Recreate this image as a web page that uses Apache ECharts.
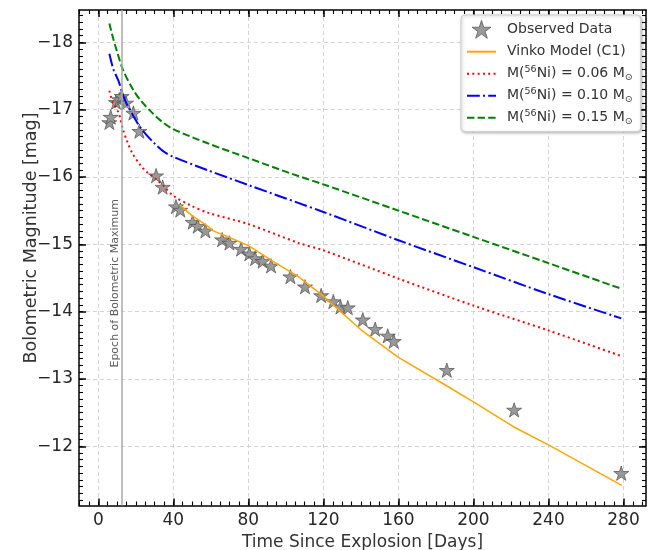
<!DOCTYPE html>
<html>
<head>
<meta charset="utf-8">
<script src="https://cdn.jsdelivr.net/npm/echarts@6/dist/echarts.min.js"></script>
<style>
  html, body { margin: 0; padding: 0; background: #fff; }
  #chart { width: 655px; height: 550px; }
</style>
</head>
<body>
<div id="chart"></div>
<script>
// observed bolometric light curve
var obsDays = [5.9, 6.6, 9.4, 11.2, 12.5, 14.8, 18.7, 21.9, 30.8, 34.3, 41.4, 43.7, 50.3, 53.0, 57.1,
               66.0, 69.9, 76.1, 80.5, 83.6, 87.6, 92.1, 102.4, 110.2, 118.8, 125.3, 129.1, 133.0,
               141.0, 147.6, 154.3, 157.5, 185.8, 221.7, 278.8];
var obsMag = [-16.81, -16.89, -17.11, -17.15, -17.20, -17.10, -16.95, -16.68, -16.02, -15.85, -15.56, -15.51, -15.33, -15.27, -15.20,
              -15.07, -15.02, -14.93, -14.86, -14.79, -14.75, -14.68, -14.52, -14.37, -14.24, -14.15, -14.07, -14.06,
              -13.88, -13.74, -13.64, -13.56, -13.13, -12.54, -11.60];

// Vinko model (C1)
var vinkoDays = [43.2, 49.8, 58.3, 61.3, 70, 80, 94, 106.7, 120, 140, 160, 185, 200, 221.3, 240, 279.1];
var vinkoMag = [-15.59, -15.43, -15.27, -15.20, -15.10, -14.98, -14.73, -14.52, -14.23, -13.73, -13.32, -12.91, -12.66, -12.29, -12.02, -11.42];

// Ni-56 models
var ni06Days = [5.9, 7.7, 10.7, 11.6, 12.5, 13.3, 15.1, 18, 22.5, 26, 31.6, 35, 40, 49, 58.3, 80, 106.7, 120, 160, 200, 240, 278.8];
var ni06Mag = [-17.28, -17.11, -16.96, -16.88, -16.77, -16.69, -16.55, -16.36, -16.17, -16.07, -15.95, -15.86, -15.72, -15.58, -15.47, -15.30, -15.02, -14.91, -14.49, -14.09, -13.72, -13.34];

var ni10Days = [5.9, 8, 10.7, 14.2, 17.8, 22.8, 29.9, 34.7, 40, 58.3, 80, 120, 160, 200, 240, 278.8];
var ni10Mag = [-17.83, -17.60, -17.43, -17.14, -16.95, -16.72, -16.50, -16.38, -16.30, -16.10, -15.88, -15.48, -15.06, -14.66, -14.26, -13.90];

var ni15Days = [5.9, 8, 9.8, 13.3, 18.7, 22.8, 28.1, 34, 40, 58.3, 80, 102.8, 120, 160, 200, 240, 278.8];
var ni15Mag = [-18.28, -18.05, -17.88, -17.58, -17.29, -17.13, -16.97, -16.82, -16.71, -16.50, -16.28, -16.05, -15.89, -15.50, -15.11, -14.72, -14.34];

var peakDay = 12.7;
var epochLabelAt = [8.9, -14.42];

var xTicks = [0, 40, 80, 120, 160, 200, 240, 280];
var yTicks = [-18, -17, -16, -15, -14, -13, -12];
var xRange = [-10.3, 292];
var yRange = [-18.48, -11.12];

var names = ['Observed Data', 'Vinko Model (C1)', 'M(56Ni) = 0.06', 'M(56Ni) = 0.10', 'M(56Ni) = 0.15'];

function pairs(xs, ys) {
  return xs.map(function (x, i) { return [x, ys[i]]; });
}

var xMinor = [];
for (var v = -10; v <= xRange[1]; v += 5) xMinor.push(v);
var yMinor = [];
for (var k = Math.ceil(yRange[0] * 10); k <= Math.floor(yRange[1] * 10); k++) yMinor.push(k / 10);

var FONT = 'DejaVu Sans';
var star = 'path://M0,-10L2.245,-3.09L9.511,-3.09L3.633,1.18L5.878,8.09L0,3.82L-5.878,8.09L-3.633,1.18L-9.511,-3.09L-2.245,-3.09Z';

function xAxisDef(pos, ticks, len, major) {
  return {
    type: 'value', position: pos, min: xRange[0], max: xRange[1],
    axisLine: { show: major, onZero: false, lineStyle: { color: '#000', width: 1.5 } },
    axisTick: { show: true, inside: true, length: len, customValues: ticks,
                lineStyle: { color: '#000', width: major ? 1.5 : 1.1 } },
    axisLabel: { show: major && pos === 'bottom', customValues: ticks, margin: 7,
                 fontFamily: FONT, fontSize: 17, color: '#262626' },
    splitLine: { show: major && pos === 'bottom',
                 lineStyle: { color: '#cfcfcf', type: [4, 3], width: 0.9 } },
    name: major && pos === 'bottom' ? 'Time Since Explosion [Days]' : '',
    nameLocation: 'middle', nameGap: 20,
    nameTextStyle: { fontFamily: FONT, fontSize: 17, color: '#333' }
  };
}
function yAxisDef(pos, ticks, len, major) {
  return {
    type: 'value', position: pos, inverse: true, min: yRange[0], max: yRange[1],
    axisLine: { show: major, onZero: false, lineStyle: { color: '#000', width: 1.5 } },
    axisTick: { show: true, inside: true, length: len, customValues: ticks,
                lineStyle: { color: '#000', width: major ? 1.5 : 1.1 } },
    axisLabel: { show: major && pos === 'left', customValues: ticks, margin: 6,
                 fontFamily: FONT, fontSize: 17, color: '#262626',
                 formatter: function (v) { return (v < 0 ? '\u2212' : '') + Math.abs(v); } },
    splitLine: { show: major && pos === 'left',
                 lineStyle: { color: '#cfcfcf', type: [4, 3], width: 0.9 } }
  };
}

// hide the circle echarts puts on line legend icons
var noSymbol = { color: 'rgba(0,0,0,0)', borderColor: 'rgba(0,0,0,0)', borderWidth: 0 };
var starStyle = { color: '#999999', borderColor: '#4d4d4d', borderWidth: 0.7, opacity: 1 };

var chart = echarts.init(document.getElementById('chart'));

var option = {
  animation: false,
  backgroundColor: '#fff',
  grid: { left: 79, right: 9, top: 10, bottom: 44.5, containLabel: false, outerBoundsMode: 'none' },
  xAxis: [
    xAxisDef('bottom', xTicks, 7, true),
    xAxisDef('bottom', xMinor, 4, false),
    xAxisDef('top', xTicks, 7, true),
    xAxisDef('top', xMinor, 4, false)
  ],
  yAxis: [
    yAxisDef('left', yTicks, 7, true),
    yAxisDef('left', yMinor, 4, false),
    yAxisDef('right', yTicks, 7, true),
    yAxisDef('right', yMinor, 4, false)
  ],
  graphic: [{
    type: 'text', x: 31, y: 238, rotation: Math.PI / 2,
    style: { text: 'Bolometric Magnitude [mag]', fontFamily: FONT, fontSize: 17.5, fill: '#333',
             textAlign: 'center', textVerticalAlign: 'middle' }
  }],
  legend: {
    orient: 'vertical', left: 461, top: 15,
    data: [
      { name: names[0], itemStyle: starStyle },
      { name: names[1], itemStyle: noSymbol },
      { name: names[2], itemStyle: noSymbol },
      { name: names[3], itemStyle: noSymbol },
      { name: names[4], itemStyle: noSymbol }
    ],
    backgroundColor: '#fff', borderColor: '#cccccc', borderWidth: 1, borderRadius: 4,
    shadowColor: 'rgba(0,0,0,0.25)', shadowBlur: 3, shadowOffsetX: 1, shadowOffsetY: 1,
    padding: [5, 8, 5, 5],
    itemWidth: 29, itemHeight: 18, itemGap: 4,
    textStyle: {
      fontFamily: FONT, fontSize: 14, color: '#333', lineHeight: 18, padding: [0, 0, 0, 6],
      rich: {
        sup: { fontFamily: FONT, fontSize: 9.5, color: '#333', verticalAlign: 'top', lineHeight: 10 },
        sub: { fontFamily: FONT, fontSize: 9.5, color: '#333', verticalAlign: 'bottom', lineHeight: 10 }
      }
    },
    formatter: function (n) {
      var m = n.match(/^M\(56Ni\) = (.*)$/);
      if (m) return 'M({sup|56}Ni) = ' + m[1] + ' M{sub|\u2299}';
      return n;
    }
  },
  series: [
    {
      name: names[0], type: 'scatter', data: pairs(obsDays, obsMag),
      symbol: star, symbolSize: 15, symbolKeepAspect: true,
      itemStyle: starStyle,
      z: 2
    },
    {
      name: 'epoch', type: 'scatter', data: [epochLabelAt], symbolSize: 0, silent: true,
      label: { show: true, position: 'inside', rotate: 90, formatter: 'Epoch of Bolometric Maximum',
               fontFamily: FONT, fontSize: 11, color: '#333' },
      markLine: {
        silent: true, symbol: ['none', 'none'], label: { show: false },
        lineStyle: { color: '#a9a9a9', width: 1.5, type: 'solid' },
        data: [{ xAxis: peakDay }]
      },
      z: 1
    },
    {
      name: names[1], type: 'line', data: pairs(vinkoDays, vinkoMag), symbol: 'none',
      lineStyle: { color: '#ffa500', width: 1.5 }, itemStyle: { color: '#ffa500' }, z: 3
    },
    {
      name: names[2], type: 'line', data: pairs(ni06Days, ni06Mag), symbol: 'none', smooth: 0.3,
      lineStyle: { color: '#ff0000', width: 2, type: [2, 3.3] }, itemStyle: { color: '#ff0000' }, z: 3
    },
    {
      name: names[3], type: 'line', data: pairs(ni10Days, ni10Mag), symbol: 'none', smooth: 0.3,
      lineStyle: { color: '#0000ff', width: 2, type: [12.8, 3.2, 2, 3.2] }, itemStyle: { color: '#0000ff' }, z: 3
    },
    {
      name: names[4], type: 'line', data: pairs(ni15Days, ni15Mag), symbol: 'none', smooth: 0.3,
      lineStyle: { color: '#008000', width: 2, type: [7.4, 3.2] }, itemStyle: { color: '#008000' }, z: 3
    }
  ]
};

chart.setOption(option);
</script>
</body>
</html>
